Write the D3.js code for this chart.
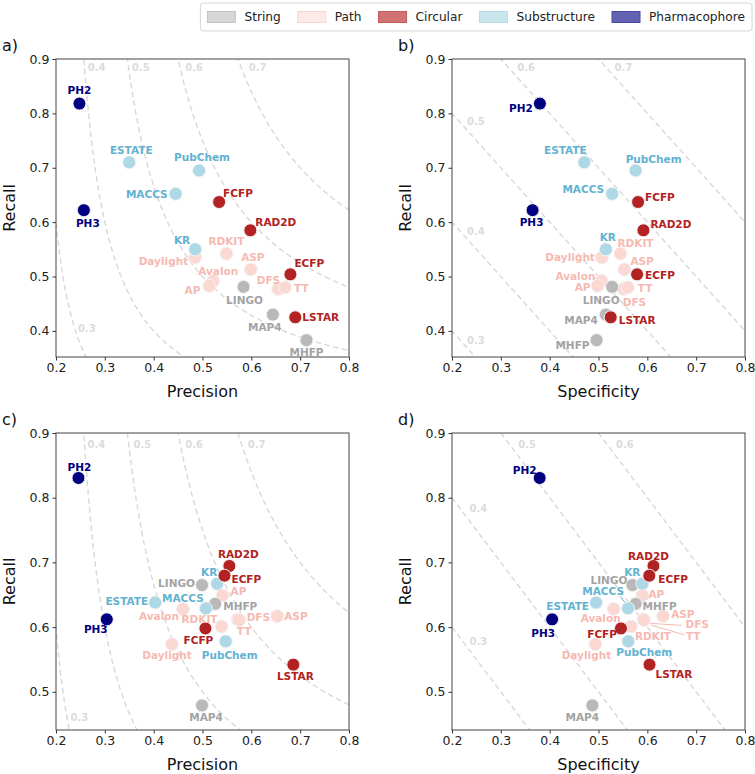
<!DOCTYPE html>
<html><head><meta charset="utf-8">
<script src="https://cdn.jsdelivr.net/npm/d3@7"></script>
<style>body{margin:0;background:#fff;} svg{display:block;font-family:"DejaVu Sans",sans-serif;}</style>
</head><body><svg id="chart" width="755" height="774"></svg>
<script>
// ---------------- DATA ----------------
const names = ["PH2","PH3","ESTATE","PubChem","MACCS","KR","FCFP","RAD2D","ECFP","LSTAR","RDKIT","Daylight","ASP","Avalon","AP","DFS","TT","LINGO","MAP4","MHFP"];
const types = ["Pharmacophore","Pharmacophore","Substructure","Substructure","Substructure","Substructure","Circular","Circular","Circular","Circular","Path","Path","Path","Path","Path","Path","Path","String","String","String"];
const categories = ["String","Path","Circular","Substructure","Pharmacophore"];

// panels a & b
const recallTop      = [0.818,0.622,0.710,0.695,0.652,0.550,0.637,0.585,0.504,0.425,0.542,0.535,0.513,0.492,0.483,0.477,0.480,0.481,0.430,0.383];
const precisionTop   = [0.248,0.257,0.350,0.493,0.445,0.485,0.534,0.598,0.680,0.690,0.549,0.485,0.599,0.522,0.514,0.655,0.669,0.584,0.644,0.713];
const specificityTop = [0.380,0.365,0.471,0.576,0.528,0.515,0.581,0.592,0.579,0.525,0.545,0.507,0.553,0.506,0.498,0.551,0.560,0.528,0.515,0.496];
// panels c & d
const recallBottom      = [0.8305,0.612,0.638,0.578,0.629,0.667,0.598,0.6945,0.6795,0.542,0.601,0.5735,0.617,0.628,0.649,0.612,0.611,0.665,0.479,0.636];
const precisionBottom   = [0.246,0.304,0.403,0.5475,0.507,0.530,0.506,0.555,0.545,0.686,0.539,0.4375,0.653,0.460,0.541,0.572,0.575,0.499,0.499,0.526];
const specificityBottom = [0.3795,0.405,0.495,0.561,0.5605,0.590,0.546,0.6125,0.604,0.6045,0.5666,0.4937,0.6324,0.531,0.590,0.592,0.593,0.5695,0.4874,0.576];

const xTicks = [0.2,0.3,0.4,0.5,0.6,0.7,0.8];
const yTicksTop = [0.4,0.5,0.6,0.7,0.8,0.9];
const yTicksBottom = [0.5,0.6,0.7,0.8,0.9];

// iso-lines
const f1Levels = [0.3,0.4,0.5,0.6,0.7];
const baLevelsB = [0.3,0.4,0.5,0.6,0.7];
const baSumsB   = [0.6,0.8,1.0,1.2,1.4];
const baLevelsD = [0.3,0.4,0.5,0.6];
const baSumsD   = [0.8,1.0,1.2,1.4];
// iso label anchors (data units) [level, x, y]
const isoLabelsA = [[0.3,0.263,0.404],[0.4,0.283,0.885],[0.5,0.374,0.885],[0.6,0.483,0.885],[0.7,0.613,0.885]];
const isoLabelsB = [[0.3,0.249,0.383],[0.4,0.249,0.582],[0.5,0.249,0.785],[0.6,0.352,0.885],[0.7,0.551,0.885]];
const isoLabelsC = [[0.3,0.248,0.461],[0.4,0.2825,0.882],[0.5,0.377,0.882],[0.6,0.483,0.882],[0.7,0.611,0.882]];
const isoLabelsD = [[0.3,0.254,0.578],[0.4,0.254,0.784],[0.5,0.354,0.882],[0.6,0.554,0.882]];

// label placement (pixel offsets from point, anchor)
const offsetsA = {PH2:[0,-13,"middle"],PH3:[4,13,"middle"],ESTATE:[2,-12,"middle"],PubChem:[3,-13,"middle"],MACCS:[-8,0,"end"],KR:[-5,-9,"end"],FCFP:[4,-9,"start"],RAD2D:[5,-8,"start"],ECFP:[4,-11,"start"],LSTAR:[7,0,"start"],RDKIT:[0,-12,"middle"],Daylight:[-7,4,"end"],ASP:[2,-12,"middle"],Avalon:[5,-10,"middle"],AP:[-9,5,"end"],DFS:[2,-9,"end"],TT:[9,1,"start"],LINGO:[1,13,"middle"],MAP4:[-8,13,"middle"],MHFP:[0,12,"middle"]};
const offsetsB = {PH2:[-7,5,"end"],PH3:[-1,12,"middle"],ESTATE:[-19,-12,"middle"],PubChem:[18,-11,"middle"],MACCS:[-8,-5,"end"],KR:[2,-12,"middle"],FCFP:[7,-5,"start"],RAD2D:[7,-6,"start"],ECFP:[8,1,"start"],LSTAR:[8,3,"start"],RDKIT:[15,-10,"middle"],Daylight:[-7,0,"end"],ASP:[6,-8,"start"],Avalon:[-6,-5,"end"],AP:[-7,2,"end"],DFS:[11,13,"middle"],TT:[10,1,"start"],LINGO:[-11,13,"middle"],MAP4:[-8,6,"end"],MHFP:[-7,5,"end"]};
const offsetsC = {PH2:[1,-11,"middle"],PH3:[-11,10,"middle"],ESTATE:[-7,-1,"end"],PubChem:[4,14,"middle"],MACCS:[-23,-10,"middle"],KR:[-8,-11,"middle"],FCFP:[-7,12,"middle"],RAD2D:[9,-12,"middle"],ECFP:[7,4,"start"],LSTAR:[2,12,"middle"],RDKIT:[-4,-7,"end"],Daylight:[-5,11,"middle"],ASP:[7,0,"start"],Avalon:[-4,7,"end"],AP:[8,-4,"start"],DFS:[9,-2,"start"],TT:[5,11,"middle"],LINGO:[-7,-2,"end"],MAP4:[4,12,"middle"],MHFP:[8,3,"start"]};
const offsetsD = {PH2:[-15,-8,"middle"],PH3:[-9,14,"middle"],ESTATE:[-7,4,"end"],PubChem:[16,11,"middle"],MACCS:[-4,-17,"end"],KR:[-2,-11,"end"],FCFP:[-4,6,"end"],RAD2D:[-5,-10,"middle"],ECFP:[9,4,"start"],LSTAR:[6,10,"start"],RDKIT:[4,10,"start"],Daylight:[-9,11,"middle"],ASP:[8,-2,"start"],Avalon:[-13,9,"middle"],AP:[6,-1,"start"],DFS:[42,5,"start"],TT:[42,16,"start"],LINGO:[-5,-5,"end"],MAP4:[-10,12,"middle"],MHFP:[7,3,"start"]};
const leadersD = [["MACCS",-8,-12,-3,-6],["DFS",7,4,38,6],["TT",7,5,41,15]];

// ---------------- STYLE ----------------
const pointFill = {String:"#b9b9b9",Path:"#fcd8d3",Circular:"#b22222",Substructure:"#add8e6",Pharmacophore:"#000080"};
const labelFill = {String:"#a3a3a3",Path:"#f6b9b1",Circular:"#b22222",Substructure:"#62b2d0",Pharmacophore:"#000080"};
const legendFill = {String:"#d6d6d6",Path:"#fde9e7",Circular:"#d17373",Substructure:"#c9e6ef",Pharmacophore:"#6262b2"};
const legendStroke = {String:"#c4c4c4",Path:"#f7d6d2",Circular:"#c45a5a",Substructure:"#b6dbe7",Pharmacophore:"#4848a4"};
const drawOrder = ["Path","String","Substructure","Circular","Pharmacophore"];

const svg = d3.select("#chart");
svg.append("rect").attr("width",755).attr("height",774).attr("fill","#fff");

const panels = [
  {id:"a",letter:"a)",left:56,right:349,top:59,bottom:357,yDom:[0.352,0.9],xLab:"Precision",xs:precisionTop,ys:recallTop,yTicks:yTicksTop,iso:"f1",levels:f1Levels,sums:null,isoLab:isoLabelsA,off:offsetsA,lead:[]},
  {id:"b",letter:"b)",left:452,right:745,top:59,bottom:357,yDom:[0.352,0.9],xLab:"Specificity",xs:specificityTop,ys:recallTop,yTicks:yTicksTop,iso:"ba",levels:baLevelsB,sums:baSumsB,isoLab:isoLabelsB,off:offsetsB,lead:[]},
  {id:"c",letter:"c)",left:56,right:349,top:433,bottom:730,yDom:[0.441,0.9],xLab:"Precision",xs:precisionBottom,ys:recallBottom,yTicks:yTicksBottom,iso:"f1",levels:f1Levels,sums:null,isoLab:isoLabelsC,off:offsetsC,lead:[]},
  {id:"d",letter:"d)",left:452,right:745,top:433,bottom:730,yDom:[0.441,0.9],xLab:"Specificity",xs:specificityBottom,ys:recallBottom,yTicks:yTicksBottom,iso:"ba",levels:baLevelsD,sums:baSumsD,isoLab:isoLabelsD,off:offsetsD,lead:leadersD}
];

panels.forEach(p => {
  const x = d3.scaleLinear().domain([0.2,0.8]).range([p.left,p.right]);
  const y = d3.scaleLinear().domain(p.yDom).range([p.bottom,p.top]);
  const g = svg.append("g");
  const clipId = "clip-"+p.id;
  svg.append("defs").append("clipPath").attr("id",clipId)
    .append("rect").attr("x",p.left).attr("y",p.top).attr("width",p.right-p.left).attr("height",p.bottom-p.top);

  // iso lines
  const iso = g.append("g").attr("clip-path",`url(#${clipId})`);
  const line = d3.line().x(d=>x(d[0])).y(d=>y(d[1]));
  p.levels.forEach((lv,i) => {
    let pts = [];
    if (p.iso === "f1") {
      const start = lv/2 + 0.004;
      for (let k=0;k<=600;k++){
        const P = start + (0.85-start)*k/600;
        const R = lv*P/(2*P-lv);
        if (R < 1.5) pts.push([P,R]);
      }
    } else {
      const s = p.sums[i];
      pts = [[0.1, s-0.1],[0.9, s-0.9]];
    }
    iso.append("path").attr("d",line(pts)).attr("fill","none")
      .attr("stroke","#d8d8d8").attr("stroke-width",1.4).attr("stroke-dasharray","5.5,3.5");
  });
  p.isoLab.forEach(d => {
    g.append("text").attr("x",x(d[1])).attr("y",y(d[2])).attr("dy","0.35em")
      .attr("text-anchor","middle").attr("font-size",10).attr("font-weight","bold")
      .attr("fill","#dcdcdc").text(d3.format(".1f")(d[0]));
  });

  // axes
  const xAxis = d3.axisBottom(x).tickValues(xTicks).tickFormat(d3.format(".1f")).tickSize(3.5).tickPadding(3);
  const yAxis = d3.axisLeft(y).tickValues(p.yTicks).tickFormat(d3.format(".1f")).tickSize(3.5).tickPadding(3);
  const gx = g.append("g").attr("transform",`translate(0,${p.bottom})`).call(xAxis);
  const gy = g.append("g").attr("transform",`translate(${p.left},0)`).call(yAxis);
  [gx,gy].forEach(a => {
    a.select(".domain").remove();
    a.selectAll(".tick line").attr("stroke","#333");
    a.selectAll(".tick text").attr("font-size",12.5).attr("fill","#222").attr("font-family","DejaVu Sans");
  });
  g.append("rect").attr("x",p.left).attr("y",p.top).attr("width",p.right-p.left).attr("height",p.bottom-p.top)
    .attr("fill","none").attr("stroke","#444").attr("stroke-width",1);

  g.append("text").attr("x",(p.left+p.right)/2).attr("y",p.bottom+40).attr("text-anchor","middle")
    .attr("font-size",16).attr("fill","#111").text(p.xLab);
  g.append("text").attr("transform",`translate(${p.left-41},${(p.top+p.bottom)/2}) rotate(-90)`)
    .attr("text-anchor","middle").attr("font-size",16).attr("fill","#111").text("Recall");
  g.append("text").attr("x",p.left-54).attr("y",p.top-8).attr("font-size",16).attr("fill","#111").text(p.letter);

  // points
  const data = names.map((n,i)=>({name:n,type:types[i],xv:p.xs[i],yv:p.ys[i]}));
  const sorted = data.slice().sort((a,b)=>drawOrder.indexOf(a.type)-drawOrder.indexOf(b.type));
  // leader lines
  p.lead.forEach(l => {
    const d = data.find(e=>e.name===l[0]);
    g.append("line").attr("x1",x(d.xv)+l[1]).attr("y1",y(d.yv)+l[2]).attr("x2",x(d.xv)+l[3]).attr("y2",y(d.yv)+l[4])
      .attr("stroke",labelFill[d.type]).attr("stroke-width",1);
  });
  g.append("g").selectAll("circle").data(sorted).join("circle")
    .attr("cx",d=>x(d.xv)).attr("cy",d=>y(d.yv)).attr("r",6.5)
    .attr("fill",d=>pointFill[d.type]).attr("stroke","#f2f2f2").attr("stroke-width",1);
  g.append("g").selectAll("text").data(data).join("text")
    .attr("x",d=>x(d.xv)+p.off[d.name][0]).attr("y",d=>y(d.yv)+p.off[d.name][1]).attr("dy","0.35em")
    .attr("text-anchor",d=>p.off[d.name][2]).attr("font-size",10.5).attr("font-weight","bold")
    .attr("fill",d=>labelFill[d.type]).text(d=>d.name);
});

// legend
const lg = svg.append("g");
const fs = 12.2;
const patchW = 28, patchH = 11, textGap = 9, itemGap = 17, pad = 7;
let cx = 0;
const items = [];
categories.forEach((c,i) => {
  const t = lg.append("text").attr("font-size",fs).attr("fill","#222").attr("dy","0.35em").text(c);
  const w = t.node().getComputedTextLength();
  items.push({c,t,w,px:cx});
  cx += patchW + textGap + w + (i<categories.length-1?itemGap:0);
});
const boxW = cx + 2*pad, boxRight = 752, boxLeft = boxRight - boxW;
const boxTop = 3, boxH = 28, midY = boxTop + boxH/2;
lg.insert("rect",":first-child").attr("x",boxLeft).attr("y",boxTop).attr("width",boxW).attr("height",boxH)
  .attr("rx",3).attr("fill","#fff").attr("stroke","#d5d5d5").attr("stroke-width",1);
items.forEach(it => {
  const x0 = boxLeft + pad + it.px;
  lg.append("rect").attr("x",x0).attr("y",midY-patchH/2).attr("width",patchW).attr("height",patchH)
    .attr("fill",legendFill[it.c]).attr("stroke",legendStroke[it.c]).attr("stroke-width",1);
  it.t.attr("x",x0+patchW+textGap).attr("y",midY);
});
</script></body></html>
